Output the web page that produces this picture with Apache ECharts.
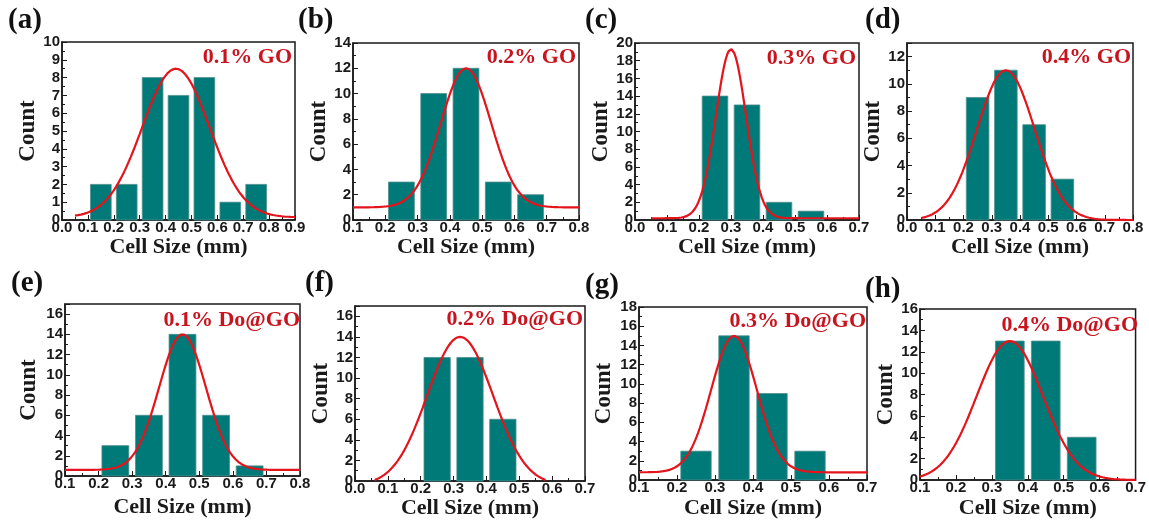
<!DOCTYPE html>
<html>
<head>
<meta charset="utf-8">
<script src="https://cdn.jsdelivr.net/npm/echarts@6/dist/echarts.min.js"></script>
<style>
html, body { margin: 0; padding: 0; background: #fff; }
#main { width: 1149px; height: 525px; }
</style>
</head>
<body>
<div id="main"></div>
<script>
// panel tags and sample names
const panelTags = ['(a)', '(b)', '(c)', '(d)', '(e)', '(f)', '(g)', '(h)'];
const sampleNames = ['0.1% GO', '0.2% GO', '0.3% GO', '0.4% GO',
  '0.1% Do@GO', '0.2% Do@GO', '0.3% Do@GO', '0.4% Do@GO'];

// histogram: centre of each 0.1 mm bin and its count
const binCenters = [
  [0.15, 0.25, 0.35, 0.45, 0.55, 0.65, 0.75],
  [0.25, 0.35, 0.45, 0.55, 0.65],
  [0.25, 0.35, 0.45, 0.55],
  [0.25, 0.35, 0.45, 0.55],
  [0.25, 0.35, 0.45, 0.55, 0.65],
  [0.25, 0.35, 0.45],
  [0.25, 0.35, 0.45, 0.55],
  [0.35, 0.45, 0.55]
];
const binCounts = [
  [2, 2, 8, 7, 8, 1, 2],
  [3, 10, 12, 3, 2],
  [14, 13, 2, 1],
  [9, 11, 7, 3],
  [3, 6, 14, 6, 1],
  [12, 12, 6],
  [3, 15, 9, 3],
  [13, 13, 4]
];
const barHalfWidth = 0.04;

// gaussian fit parameters
const fitCenter = [0.44, 0.45, 0.30, 0.35, 0.45, 0.32, 0.35, 0.35];
const fitSigma  = [0.13, 0.078, 0.047, 0.102, 0.07, 0.1, 0.06, 0.092];
const fitAmp    = [8.35, 11, 19.1, 11, 13.4, 14.4, 14.2, 13];
const fitBase   = [0.15, 1, 0.2, 0, 0.6, -0.4, 0.8, 0];
const fitFrom   = [0.05, 0.1, 0.05, 0.05, 0.1, 0.06, 0.1, 0.1];
const fitTo     = [0.9, 0.8, 0.7, 0.8, 0.8, 0.58, 0.7, 0.7];

// axis ranges
const xMin  = [0, 0.1, 0, 0, 0.1, 0, 0.1, 0.1];
const xMax  = [0.9, 0.8, 0.7, 0.8, 0.8, 0.7, 0.7, 0.7];
const yMax  = [10, 14, 20, 13, 17, 17, 18, 16];
const yStep = [1, 2, 2, 2, 2, 2, 2, 2];

// layout (pixels): plot box [left, top, right, bottom]
const boxes = [
  [62, 42, 295, 220], [353, 43, 579, 220], [635, 43, 859, 220], [907, 43, 1133, 220],
  [65, 304, 300, 476], [355, 306, 585, 481], [639, 307, 867, 480], [920, 309, 1139, 480]
];
const tagPos  = [[28, 22], [318, 22], [605, 22], [885, 22], [31, 285], [325, 285], [605, 287], [885, 291]];
const namePos = [[292, 57], [576, 57], [856, 58], [1131, 57], [300, 320], [583, 319], [866, 321], [1138, 325]];
const countX  = [32, 322, 602, 878, 30, 322, 605, 887];
const titleY  = [246, 246, 246, 246, 507, 508, 508, 508];

const serif = "'Liberation Serif', 'Times New Roman', serif";
const sans = "'Liberation Sans', Arial, sans-serif";
const ink = '#1a1a1a';

const grids = [], xAxes = [], yAxes = [], series = [], graphics = [];

boxes.forEach(function (b, i) {
  grids.push({
    left: b[0], top: b[1], width: b[2] - b[0], height: b[3] - b[1],
    show: true, borderColor: ink, borderWidth: 1.5
  });
  xAxes.push({
    type: 'value', gridIndex: i, min: xMin[i], max: xMax[i], interval: 0.1,
    name: 'Cell Size (mm)', nameLocation: 'middle', nameGap: titleY[i] - b[3] - 11,
    nameTextStyle: { fontFamily: serif, fontWeight: 'bold', fontSize: 22, color: ink },
    axisLine: { show: true, lineStyle: { color: ink, width: 1.5 } },
    axisTick: { inside: true, length: 5, lineStyle: { color: ink } },
    minorTick: { show: true, splitNumber: 2, length: 3, lineStyle: { color: ink } },
    splitLine: { show: false },
    axisLabel: {
      margin: 0, fontFamily: sans, fontWeight: 'bold', fontSize: 15, color: ink,
      formatter: function (v) { return v.toFixed(1); }
    }
  });
  yAxes.push({
    type: 'value', gridIndex: i, min: 0, max: yMax[i], interval: yStep[i],
    name: 'Count', nameLocation: 'middle', nameRotate: 90, nameGap: b[0] - countX[i] - 11,
    nameTextStyle: { fontFamily: serif, fontWeight: 'bold', fontSize: 23, color: ink },
    axisLine: { show: true, lineStyle: { color: ink, width: 1.5 } },
    axisTick: { inside: true, length: 5, lineStyle: { color: ink } },
    minorTick: { show: true, splitNumber: 2, length: 3, lineStyle: { color: ink } },
    splitLine: { show: false },
    axisLabel: {
      margin: 2, fontFamily: sans, fontWeight: 'bold', fontSize: 15, color: ink,
      showMaxLabel: yMax[i] % yStep[i] === 0
    }
  });

  series.push({
    type: 'custom', xAxisIndex: i, yAxisIndex: i,
    data: binCenters[i].map(function (c, k) { return [c, binCounts[i][k]]; }),
    encode: { x: 0, y: 1 },
    renderItem: function (params, api) {
      const c = api.value(0), n = api.value(1);
      const p0 = api.coord([c - barHalfWidth, n]);
      const p1 = api.coord([c + barHalfWidth, 0]);
      return {
        type: 'rect',
        shape: { x: p0[0], y: p0[1], width: p1[0] - p0[0], height: p1[1] - p0[1] },
        style: { fill: '#007a78', stroke: '#4f8f8d', lineWidth: 0.8 }
      };
    }
  });

  const pts = [];
  for (let k = 0; k <= 150; k++) {
    const x = fitFrom[i] + (fitTo[i] - fitFrom[i]) * k / 150;
    const d = x - fitCenter[i];
    pts.push([x, fitBase[i] + fitAmp[i] * Math.exp(-d * d / (2 * fitSigma[i] * fitSigma[i]))]);
  }
  series.push({
    type: 'line', xAxisIndex: i, yAxisIndex: i, data: pts, z: 5,
    showSymbol: false, symbol: 'none', smooth: false,
    lineStyle: { color: '#e3141b', width: 2.2 }
  });

  graphics.push({
    type: 'text', left: tagPos[i][0] - 20, top: tagPos[i][1] - 16,
    style: { text: panelTags[i], font: 'bold 29px ' + serif, fill: '#111' }
  });
  graphics.push({
    type: 'text', x: namePos[i][0], y: namePos[i][1],
    style: {
      text: sampleNames[i], font: 'bold 22px ' + serif, fill: '#c8141e',
      align: 'right', verticalAlign: 'middle'
    }
  });
});

const chart = echarts.init(document.getElementById('main'));
chart.setOption({
  animation: false,
  backgroundColor: '#fff',
  grid: grids,
  xAxis: xAxes,
  yAxis: yAxes,
  series: series,
  graphic: graphics
});
</script>
</body>
</html>
